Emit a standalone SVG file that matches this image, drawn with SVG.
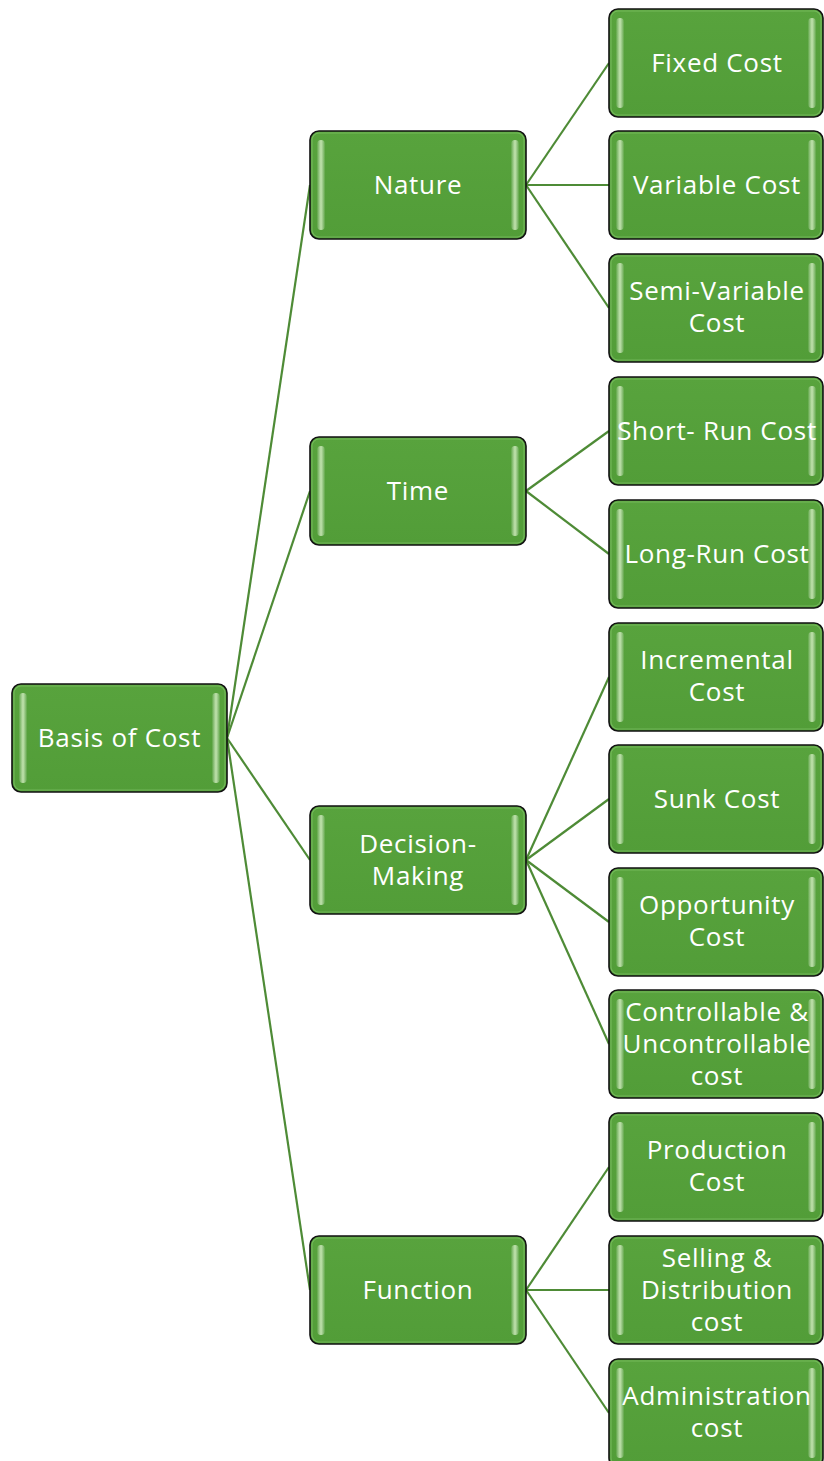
<svg xmlns="http://www.w3.org/2000/svg" width="824" height="1461" viewBox="0 0 824 1461">
<defs>
<linearGradient id="hl" x1="0" y1="0" x2="1" y2="0">
<stop offset="0" stop-color="#ffffff" stop-opacity="0.05"/>
<stop offset="0.5" stop-color="#e4f8d2" stop-opacity="0.75"/>
<stop offset="1" stop-color="#ffffff" stop-opacity="0.05"/>
</linearGradient>
<linearGradient id="bg" x1="0" y1="0" x2="0" y2="1">
<stop offset="0" stop-color="#58a33d"/>
<stop offset="1" stop-color="#529d38"/>
</linearGradient>
</defs>
<style>
.box{fill:url(#bg);stroke:#111;stroke-width:1.6}
.rim{fill:none;stroke:#8fcf78;stroke-opacity:0.5;stroke-width:1.2}
.hl{fill:url(#hl)}
.t{font-family:"Open Sans","Liberation Sans",sans-serif;font-size:26px;letter-spacing:0.7px;fill:#fff;text-anchor:middle}
.c{stroke:#4e8b36;stroke-width:2.2;fill:none}
</style>
<rect width="824" height="1461" fill="#fff"/>
<g id="connectors">
<line class="c" x1="227" y1="738" x2="310" y2="185"/>
<line class="c" x1="227" y1="738" x2="310" y2="491"/>
<line class="c" x1="227" y1="738" x2="310" y2="860"/>
<line class="c" x1="227" y1="738" x2="310" y2="1290"/>
<line class="c" x1="526" y1="185" x2="609" y2="63"/>
<line class="c" x1="526" y1="185" x2="609" y2="185"/>
<line class="c" x1="526" y1="185" x2="609" y2="308"/>
<line class="c" x1="526" y1="491" x2="609" y2="431"/>
<line class="c" x1="526" y1="491" x2="609" y2="554"/>
<line class="c" x1="526" y1="860" x2="609" y2="677"/>
<line class="c" x1="526" y1="860" x2="609" y2="799"/>
<line class="c" x1="526" y1="860" x2="609" y2="922"/>
<line class="c" x1="526" y1="860" x2="609" y2="1044"/>
<line class="c" x1="526" y1="1290" x2="609" y2="1167"/>
<line class="c" x1="526" y1="1290" x2="609" y2="1290"/>
<line class="c" x1="526" y1="1290" x2="609" y2="1413"/>
</g>
<g id="root">
<rect class="box" x="12" y="684" width="215" height="108" rx="9"/>
<rect class="rim" x="14" y="686" width="211" height="104" rx="7"/>
<rect class="hl" x="19" y="693" width="8" height="90" rx="4"/>
<rect class="hl" x="212" y="693" width="8" height="90" rx="4"/>
<text class="t" x="119.5" y="747">Basis of Cost</text>
</g>
<g id="nature">
<rect class="box" x="310" y="131" width="216" height="108" rx="9"/>
<rect class="rim" x="312" y="133" width="212" height="104" rx="7"/>
<rect class="hl" x="317" y="140" width="8" height="90" rx="4"/>
<rect class="hl" x="511" y="140" width="8" height="90" rx="4"/>
<text class="t" x="418" y="194">Nature</text>
</g>
<g id="time">
<rect class="box" x="310" y="437" width="216" height="108" rx="9"/>
<rect class="rim" x="312" y="439" width="212" height="104" rx="7"/>
<rect class="hl" x="317" y="446" width="8" height="90" rx="4"/>
<rect class="hl" x="511" y="446" width="8" height="90" rx="4"/>
<text class="t" x="418" y="500">Time</text>
</g>
<g id="decision">
<rect class="box" x="310" y="806" width="216" height="108" rx="9"/>
<rect class="rim" x="312" y="808" width="212" height="104" rx="7"/>
<rect class="hl" x="317" y="815" width="8" height="90" rx="4"/>
<rect class="hl" x="511" y="815" width="8" height="90" rx="4"/>
<text class="t" x="418" y="853">Decision-</text>
<text class="t" x="418" y="885">Making</text>
</g>
<g id="function">
<rect class="box" x="310" y="1236" width="216" height="108" rx="9"/>
<rect class="rim" x="312" y="1238" width="212" height="104" rx="7"/>
<rect class="hl" x="317" y="1245" width="8" height="90" rx="4"/>
<rect class="hl" x="511" y="1245" width="8" height="90" rx="4"/>
<text class="t" x="418" y="1299">Function</text>
</g>
<g id="fixed">
<rect class="box" x="609" y="9" width="214" height="108" rx="9"/>
<rect class="rim" x="611" y="11" width="210" height="104" rx="7"/>
<rect class="hl" x="616" y="18" width="8" height="90" rx="4"/>
<rect class="hl" x="808" y="18" width="8" height="90" rx="4"/>
<text class="t" x="717" y="72">Fixed Cost</text>
</g>
<g id="variable">
<rect class="box" x="609" y="131" width="214" height="108" rx="9"/>
<rect class="rim" x="611" y="133" width="210" height="104" rx="7"/>
<rect class="hl" x="616" y="140" width="8" height="90" rx="4"/>
<rect class="hl" x="808" y="140" width="8" height="90" rx="4"/>
<text class="t" x="717" y="194">Variable Cost</text>
</g>
<g id="semivariable">
<rect class="box" x="609" y="254" width="214" height="108" rx="9"/>
<rect class="rim" x="611" y="256" width="210" height="104" rx="7"/>
<rect class="hl" x="616" y="263" width="8" height="90" rx="4"/>
<rect class="hl" x="808" y="263" width="8" height="90" rx="4"/>
<text class="t" x="717" y="300">Semi-Variable</text>
<text class="t" x="717" y="332">Cost</text>
</g>
<g id="shortrun">
<rect class="box" x="609" y="377" width="214" height="108" rx="9"/>
<rect class="rim" x="611" y="379" width="210" height="104" rx="7"/>
<rect class="hl" x="616" y="386" width="8" height="90" rx="4"/>
<rect class="hl" x="808" y="386" width="8" height="90" rx="4"/>
<text class="t" x="717" y="440">Short- Run Cost</text>
</g>
<g id="longrun">
<rect class="box" x="609" y="500" width="214" height="108" rx="9"/>
<rect class="rim" x="611" y="502" width="210" height="104" rx="7"/>
<rect class="hl" x="616" y="509" width="8" height="90" rx="4"/>
<rect class="hl" x="808" y="509" width="8" height="90" rx="4"/>
<text class="t" x="717" y="563">Long-Run Cost</text>
</g>
<g id="incremental">
<rect class="box" x="609" y="623" width="214" height="108" rx="9"/>
<rect class="rim" x="611" y="625" width="210" height="104" rx="7"/>
<rect class="hl" x="616" y="632" width="8" height="90" rx="4"/>
<rect class="hl" x="808" y="632" width="8" height="90" rx="4"/>
<text class="t" x="717" y="669">Incremental</text>
<text class="t" x="717" y="701">Cost</text>
</g>
<g id="sunk">
<rect class="box" x="609" y="745" width="214" height="108" rx="9"/>
<rect class="rim" x="611" y="747" width="210" height="104" rx="7"/>
<rect class="hl" x="616" y="754" width="8" height="90" rx="4"/>
<rect class="hl" x="808" y="754" width="8" height="90" rx="4"/>
<text class="t" x="717" y="808">Sunk Cost</text>
</g>
<g id="opportunity">
<rect class="box" x="609" y="868" width="214" height="108" rx="9"/>
<rect class="rim" x="611" y="870" width="210" height="104" rx="7"/>
<rect class="hl" x="616" y="877" width="8" height="90" rx="4"/>
<rect class="hl" x="808" y="877" width="8" height="90" rx="4"/>
<text class="t" x="717" y="914">Opportunity</text>
<text class="t" x="717" y="946">Cost</text>
</g>
<g id="controllable">
<rect class="box" x="609" y="990" width="214" height="108" rx="9"/>
<rect class="rim" x="611" y="992" width="210" height="104" rx="7"/>
<rect class="hl" x="616" y="999" width="8" height="90" rx="4"/>
<rect class="hl" x="808" y="999" width="8" height="90" rx="4"/>
<text class="t" x="717" y="1021">Controllable &amp;</text>
<text class="t" x="717" y="1053">Uncontrollable</text>
<text class="t" x="717" y="1085">cost</text>
</g>
<g id="production">
<rect class="box" x="609" y="1113" width="214" height="108" rx="9"/>
<rect class="rim" x="611" y="1115" width="210" height="104" rx="7"/>
<rect class="hl" x="616" y="1122" width="8" height="90" rx="4"/>
<rect class="hl" x="808" y="1122" width="8" height="90" rx="4"/>
<text class="t" x="717" y="1159">Production</text>
<text class="t" x="717" y="1191">Cost</text>
</g>
<g id="selling">
<rect class="box" x="609" y="1236" width="214" height="108" rx="9"/>
<rect class="rim" x="611" y="1238" width="210" height="104" rx="7"/>
<rect class="hl" x="616" y="1245" width="8" height="90" rx="4"/>
<rect class="hl" x="808" y="1245" width="8" height="90" rx="4"/>
<text class="t" x="717" y="1267">Selling &amp;</text>
<text class="t" x="717" y="1299">Distribution</text>
<text class="t" x="717" y="1331">cost</text>
</g>
<g id="administration">
<rect class="box" x="609" y="1359" width="214" height="108" rx="9"/>
<rect class="rim" x="611" y="1361" width="210" height="104" rx="7"/>
<rect class="hl" x="616" y="1368" width="8" height="90" rx="4"/>
<rect class="hl" x="808" y="1368" width="8" height="90" rx="4"/>
<text class="t" x="717" y="1405">Administration</text>
<text class="t" x="717" y="1437">cost</text>
</g>
</svg>
